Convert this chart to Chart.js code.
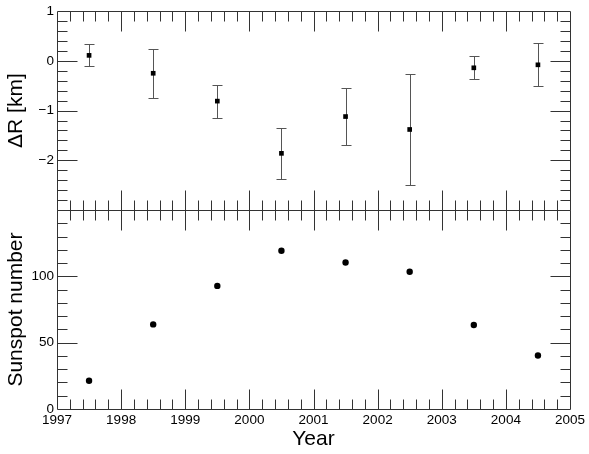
<!DOCTYPE html>
<html>
<head>
<meta charset="utf-8">
<script src="https://cdn.jsdelivr.net/npm/chart.js@4/dist/chart.umd.min.js"></script>
<style>
  html, body { margin: 0; padding: 0; background: #fff; }
  canvas { display: block; }
</style>
</head>
<body>
<canvas id="solarChart" width="589" height="454"></canvas>
<script>
// ===== Dados =====
const years = [1997.5, 1998.5, 1999.5, 2000.5, 2001.5, 2002.5, 2003.5, 2004.5];
const deltaR = [0.11, -0.25, -0.81, -1.86, -1.12, -1.38, -0.14, -0.08];
const deltaRErr = [0.22, 0.49, 0.33, 0.51, 0.57, 1.12, 0.23, 0.43];
const sunspots = [21.3, 63.8, 92.8, 119.3, 110.5, 103.5, 63.3, 40.3];

const xTicks = [1997, 1998, 1999, 2000, 2001, 2002, 2003, 2004, 2005];
const deltaRTicks = [-2, -1, 0, 1];
const sunspotTicks = [0, 50, 100];

const FONT = "'Liberation Sans', Arial, Helvetica, sans-serif";
const crisp = v => Math.round(v) + 0.5;

// barras de erro (antes dos pontos)
const errorBars = {
  id: "errorBars",
  beforeDatasetsDraw(chart) {
    const { ctx, scales: { x, yTop } } = chart;
    ctx.save();
    ctx.strokeStyle = "#555";
    ctx.lineWidth = 1;
    years.forEach((yr, i) => {
      const px = crisp(x.getPixelForValue(yr));
      const hi = crisp(yTop.getPixelForValue(deltaR[i] + deltaRErr[i]));
      const lo = crisp(yTop.getPixelForValue(deltaR[i] - deltaRErr[i]));
      ctx.beginPath();
      ctx.moveTo(px, hi); ctx.lineTo(px, lo);
      ctx.moveTo(px - 5, hi); ctx.lineTo(px + 5, hi);
      ctx.moveTo(px - 5, lo); ctx.lineTo(px + 5, lo);
      ctx.stroke();
    });
    ctx.restore();
  }
};

// moldura + ticks para dentro (estilo ROOT)
const frameTicks = {
  id: "frameTicks",
  afterDatasetsDraw(chart) {
    const { ctx, scales: { x, yTop, yBot } } = chart;
    const l = crisp(x.left), r = crisp(x.right);
    ctx.save();
    ctx.strokeStyle = "#333";
    ctx.lineWidth = 1;
    ctx.beginPath();
    [[yTop, 0.2, 5], [yBot, 10, 5]].forEach(([ys, step, every]) => {
      const t = crisp(ys.top), b = crisp(ys.bottom);
      ctx.rect(l, t, r - l, b - t);
      // eixo x
      const nx = Math.round((x.max - x.min) / 0.2);
      for (let i = 1; i < nx; i++) {
        const px = crisp(x.getPixelForValue(x.min + i * 0.2));
        const len = i % 5 === 0 ? 20 : 10;
        ctx.moveTo(px, t); ctx.lineTo(px, t + len);
        ctx.moveTo(px, b); ctx.lineTo(px, b - len);
      }
      // eixo y
      const ny = Math.round((ys.max - ys.min) / step);
      for (let i = 1; i < ny; i++) {
        const py = crisp(ys.getPixelForValue(ys.min + i * step));
        const len = i % every === 0 ? 20 : 10;
        ctx.moveTo(l, py); ctx.lineTo(l + len, py);
        ctx.moveTo(r, py); ctx.lineTo(r - len, py);
      }
    });
    ctx.stroke();
    ctx.restore();
  }
};

const tickFont = { family: FONT, size: 13.5 };
const titleFont = { family: FONT, size: 21 };

const ctx = document.getElementById("solarChart").getContext("2d");
new Chart(ctx, {
  type: "scatter",
  data: {
    datasets: [
      {
        label: "ΔR",
        data: years.map((yr, i) => ({ x: yr, y: deltaR[i] })),
        yAxisID: "yTop",
        pointStyle: "rect",
        pointRadius: 3.3,
        pointBorderWidth: 0,
        backgroundColor: "#000",
        borderColor: "#000"
      },
      {
        label: "Sunspot number",
        data: years.map((yr, i) => ({ x: yr, y: sunspots[i] })),
        yAxisID: "yBot",
        pointStyle: "circle",
        pointRadius: 3.2,
        pointBorderWidth: 0,
        backgroundColor: "#000",
        borderColor: "#000"
      }
    ]
  },
  options: {
    responsive: false,
    animation: false,
    devicePixelRatio: 1,
    layout: { padding: { left: 0, right: 19, top: 11, bottom: 0 } },
    plugins: { legend: { display: false }, tooltip: { enabled: false } },
    scales: {
      x: {
        type: "linear",
        min: 1997,
        max: 2005,
        afterBuildTicks: s => { s.ticks = xTicks.map(v => ({ value: v })); },
        afterFit: s => { s.height = 45; },
        grid: { display: false, drawTicks: false },
        border: { display: false },
        ticks: { font: tickFont, color: "#000", padding: 3, autoSkip: false, maxRotation: 0,
                 callback: v => String(v) },
        title: { display: true, text: "Year", font: titleFont, color: "#000", padding: { top: 0, bottom: 2 } }
      },
      // o primeiro eixo da pilha fica embaixo
      yBot: {
        type: "linear",
        position: "left",
        stack: "painel",
        stackWeight: 1,
        min: 0,
        max: 150,
        afterBuildTicks: s => { s.ticks = sunspotTicks.map(v => ({ value: v })); },
        afterFit: s => { s.width = 57; },
        grid: { display: false, drawTicks: false },
        border: { display: false },
        ticks: { font: tickFont, color: "#000", padding: 3, autoSkip: false,
                 callback: v => String(v) },
        title: { display: true, text: "Sunspot number", font: titleFont, color: "#000", padding: { top: 4, bottom: 0 } }
      },
      yTop: {
        type: "linear",
        position: "left",
        stack: "painel",
        stackWeight: 1,
        min: -3,
        max: 1,
        afterBuildTicks: s => { s.ticks = deltaRTicks.map(v => ({ value: v })); },
        afterFit: s => { s.width = 57; },
        grid: { display: false, drawTicks: false },
        border: { display: false },
        ticks: { font: tickFont, color: "#000", padding: 3, autoSkip: false,
                 callback: v => String(v).replace("-", "\u2212") },
        title: { display: true, text: "ΔR [km]", font: titleFont, color: "#000", padding: { top: 4, bottom: 0 } }
      }
    }
  },
  plugins: [errorBars, frameTicks]
});
</script>
</body>
</html>
